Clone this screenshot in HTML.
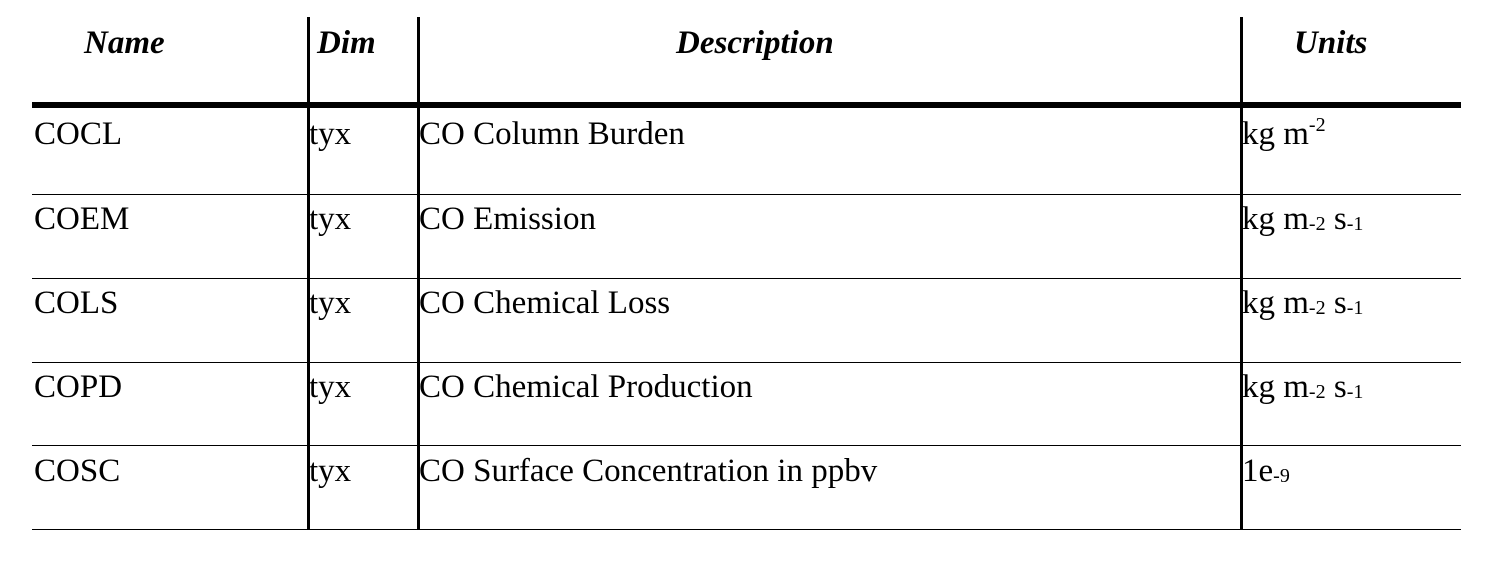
<!DOCTYPE html>
<html><head><meta charset="utf-8"><style>
body{margin:0;width:1496px;height:561px;background:#fff;position:relative;overflow:hidden;font-family:"Liberation Serif",serif;color:#000}
.l{position:absolute;background:#000}
.t{position:absolute;font-size:33px;line-height:1;white-space:nowrap}
.h{font-weight:bold;font-style:italic}
sup,sub{font-size:20px;line-height:0}
sup{vertical-align:13px}
sub{vertical-align:-1px}
</style></head><body>
<div class="l" style="left:307px;top:17px;width:3px;height:513px"></div>
<div class="l" style="left:417px;top:17px;width:3px;height:513px"></div>
<div class="l" style="left:1240px;top:17px;width:3px;height:513px"></div>
<div class="l" style="left:32px;top:102px;width:1429px;height:6px"></div>
<div class="l" style="left:32px;top:194px;width:1429px;height:1px"></div>
<div class="l" style="left:32px;top:278px;width:1429px;height:1px"></div>
<div class="l" style="left:32px;top:362px;width:1429px;height:1px"></div>
<div class="l" style="left:32px;top:445px;width:1429px;height:1px"></div>
<div class="l" style="left:32px;top:529px;width:1429px;height:1px"></div>

<div class="t h" style="left:84px;top:27px">Name</div>
<div class="t h" style="left:317px;top:27px">Dim</div>
<div class="t h" style="left:676px;top:27px">Description</div>
<div class="t h" style="left:1294px;top:27px">Units</div>

<div class="t" style="left:34px;top:118px">COCL</div>
<div class="t" style="left:309px;top:118px">tyx</div>
<div class="t" style="left:419px;top:118px">CO Column Burden</div>
<div class="t" style="left:1242px;top:118px">kg m<sup>-2</sup></div>

<div class="t" style="left:34px;top:203px">COEM</div>
<div class="t" style="left:309px;top:203px">tyx</div>
<div class="t" style="left:419px;top:203px">CO Emission</div>
<div class="t" style="left:1242px;top:203px">kg m<sub>-2</sub> s<sub>-1</sub></div>

<div class="t" style="left:34px;top:287px">COLS</div>
<div class="t" style="left:309px;top:287px">tyx</div>
<div class="t" style="left:419px;top:287px">CO Chemical Loss</div>
<div class="t" style="left:1242px;top:287px">kg m<sub>-2</sub> s<sub>-1</sub></div>

<div class="t" style="left:34px;top:371px">COPD</div>
<div class="t" style="left:309px;top:371px">tyx</div>
<div class="t" style="left:419px;top:371px">CO Chemical Production</div>
<div class="t" style="left:1242px;top:371px">kg m<sub>-2</sub> s<sub>-1</sub></div>

<div class="t" style="left:34px;top:455px">COSC</div>
<div class="t" style="left:309px;top:455px">tyx</div>
<div class="t" style="left:419px;top:455px">CO Surface Concentration in ppbv</div>
<div class="t" style="left:1242px;top:455px">1e<sub>-9</sub></div>
</body></html>
